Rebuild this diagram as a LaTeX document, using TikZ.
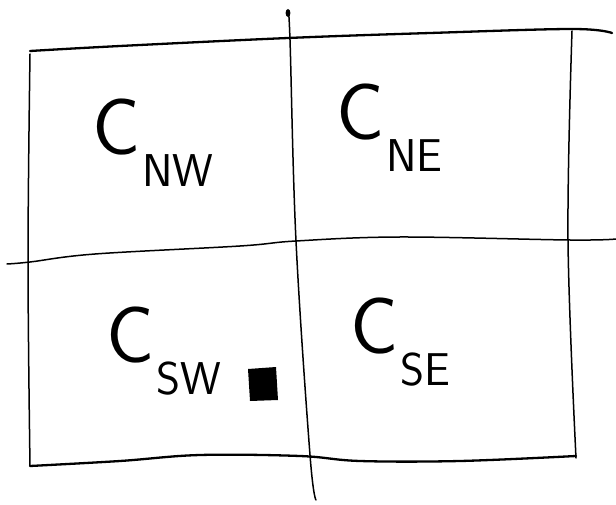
\documentclass[tikz,border=0pt]{standalone}
\usepackage{amsmath}
\usepackage{tikz}
\usetikzlibrary{positioning}

% cell name: large C with a lowered index
\newcommand{\cellname}[1]{%
  {\fontsize{80}{80}\selectfont C}\kern2pt%
  \raisebox{-32pt}{\fontsize{46}{46}\selectfont #1}}

\begin{document}
\begin{tikzpicture}[
  x=1pt, y=-1pt,
  edge/.style={line width=1.5pt, line cap=round, line join=round},
  heavy/.style={line width=2.3pt, line cap=round, line join=round},
  cell/.style={font=\sffamily, inner sep=0pt, anchor=base west},
]
\useasboundingbox (0,0) rectangle (616,505);

% outer frame
\draw[heavy] plot[smooth, tension=0.6] coordinates
  {(30,51) (120,46) (288,38) (430,33) (572,29) (612,33)};
\draw[heavy] plot[smooth, tension=0.6] coordinates
  {(30,466) (120,461) (200,455) (300,456) (360,461) (460,461) (576,456)};
\draw[edge] plot[smooth, tension=0.6] coordinates
  {(30,54) (28,260) (30,466)};
\draw[edge] plot[smooth, tension=0.6] coordinates
  {(572,31) (568,240) (576,458)};

% dividing lines
\draw[edge] plot[smooth, tension=0.6] coordinates
  {(7,264) (30,262) (95,254) (240,246) (296,241) (400,237) (570,240) (616,239)};
\draw[edge] plot[smooth, tension=0.6] coordinates
  {(288,12) (290,40) (296,241) (310,455) (316,500)};
\fill (288,13) ellipse (2.4pt and 4pt);

% cell labels
\node[cell] (nw) at (92,155) {\cellname{NW}};
\node[cell] (ne) at (336,140) {\cellname{NE}};
\node[cell] (sw) at (106,362) {\cellname{SW}};
\node[cell] (se) at (350,353) {\cellname{SE}};

% marked point
\fill (248,369) -- (276,367) -- (278,400) -- (250,401) -- cycle;

\end{tikzpicture}
\end{document}
